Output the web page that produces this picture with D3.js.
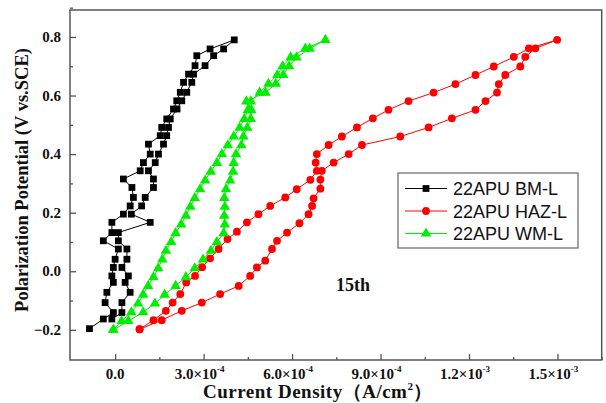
<!DOCTYPE html>
<html>
<head>
<meta charset="utf-8">
<script src="https://d3js.org/d3.v7.min.js"></script>
<style>
  body { margin: 0; background: #fff; }
  text { font-family: "Liberation Serif", "Times New Roman", serif; font-weight: bold; fill: #111; }
  .legend text { font-family: "Liberation Sans", Arial, sans-serif; font-weight: normal; }
</style>
</head>
<body>
<div id="chart"></div>
<script>
// current density in units of 1e-4 A/cm2, potential in V vs SCE
// each curve: forward branch (up) then reverse branch (down)
const bmPotential = [-0.196, -0.163, -0.141, -0.107, -0.072, -0.038, -0.016, 0.013, 0.041, 0.076, 0.104, 0.132, 0.167, 0.195, 0.223, 0.252, 0.286, 0.315, 0.343, 0.371, 0.400, 0.434, 0.463, 0.491, 0.520, 0.554, 0.582, 0.611, 0.645, 0.673, 0.702, 0.736, 0.759, 0.790,
  0.759, 0.736, 0.702, 0.673, 0.645, 0.611, 0.582, 0.554, 0.520, 0.491, 0.463, 0.434, 0.400, 0.371, 0.343, 0.315, 0.286, 0.252, 0.223, 0.195, 0.167, 0.132, 0.104, 0.076, 0.041, 0.013, -0.016, -0.038, -0.072, -0.107, -0.141, -0.163];
const bmCurrent = [-0.87, -0.40, -0.06, -0.34, -0.28, -0.06, -0.11, -0.06, 0.00, 0.11, -0.40, -0.11, -0.11, 0.28, 0.51, 0.62, 0.57, 0.28, 0.85, 0.96, 1.19, 1.13, 1.53, 1.58, 1.75, 1.98, 2.09, 2.21, 2.32, 2.49, 2.71, 2.77, 3.22, 4.04,
  3.68, 3.34, 3.05, 2.66, 2.60, 2.43, 2.26, 2.10, 1.87, 1.81, 1.75, 1.64, 1.47, 1.36, 1.13, 1.30, 1.30, 1.02, 0.90, 0.55, 1.19, 0.11, 0.11, 0.40, 0.40, 0.23, 0.45, 0.34, 0.51, 0.23, 0.23, -0.11];

const hazPotential = [-0.198, -0.167, -0.135, -0.107, -0.078, -0.038, -0.016, 0.014, 0.044, 0.076, 0.110, 0.135, 0.167, 0.195, 0.223, 0.252, 0.280, 0.312, 0.343, 0.371, 0.400, 0.431, 0.460, 0.491, 0.522, 0.551, 0.581, 0.610, 0.639, 0.670, 0.699, 0.732, 0.761, 0.790,
  0.761, 0.732, 0.699, 0.670, 0.639, 0.610, 0.581, 0.551, 0.522, 0.491, 0.460, 0.431, 0.400, 0.371, 0.343, 0.313, 0.282, 0.249, 0.223, 0.195, 0.164, 0.132, 0.104, 0.076, 0.036, 0.013, -0.016, -0.050, -0.078, -0.107, -0.135, -0.167, -0.198];
const hazCurrent = [0.83, 1.30, 1.72, 1.95, 2.21, 2.41, 2.71, 2.95, 3.22, 3.51, 3.81, 4.13, 4.47, 4.86, 5.26, 5.77, 6.16, 6.62, 6.84, 6.80, 6.84, 7.24, 7.69, 8.20, 8.74, 9.27, 9.95, 10.80, 11.54, 12.22, 12.84, 13.52, 14.03, 14.99,
  14.25, 13.91, 13.74, 13.23, 13.01, 12.95, 12.56, 12.22, 11.42, 10.63, 9.67, 8.37, 7.92, 7.41, 7.01, 6.96, 6.96, 6.73, 6.68, 6.56, 6.25, 5.83, 5.49, 5.32, 5.09, 4.81, 4.58, 4.19, 3.56, 2.94, 2.26, 1.58, 0.83];

const wmPotential = [-0.20, -0.17, -0.14, -0.11, -0.08, -0.05, -0.02, 0.01, 0.04, 0.07, 0.10, 0.13, 0.16, 0.19, 0.22, 0.25, 0.28, 0.31, 0.34, 0.37, 0.40, 0.43, 0.46, 0.49, 0.52, 0.55, 0.58, 0.61, 0.64, 0.67, 0.70, 0.73, 0.76, 0.79,
  0.76, 0.73, 0.70, 0.67, 0.64, 0.61, 0.58, 0.55, 0.52, 0.49, 0.46, 0.43, 0.40, 0.37, 0.34, 0.31, 0.28, 0.25, 0.22, 0.19, 0.16, 0.13, 0.10, 0.07, 0.04, 0.01, -0.02, -0.05, -0.08, -0.11, -0.14, -0.17, -0.20];
const wmCurrent = [-0.06, 0.22, 0.55, 0.78, 0.95, 1.12, 1.30, 1.46, 1.60, 1.72, 1.90, 2.05, 2.24, 2.40, 2.55, 2.70, 2.88, 3.05, 3.24, 3.45, 3.62, 3.82, 4.02, 4.22, 4.38, 4.50, 4.60, 4.90, 5.20, 5.50, 5.68, 5.95, 6.45, 7.13,
  6.60, 6.15, 5.90, 5.70, 5.45, 5.10, 4.45, 4.62, 4.60, 4.48, 4.35, 4.28, 4.10, 4.02, 4.00, 3.90, 3.76, 3.70, 3.72, 3.70, 3.72, 3.68, 3.45, 3.25, 2.98, 2.70, 2.40, 2.05, 1.68, 1.35, 0.95, 0.45, -0.06];

const seriesNames = ["22APU BM-L", "22APU HAZ-L", "22APU WM-L"];
const seriesColors = ["#000000", "#ff0000", "#00ee00"];
const xTicks = [0, 3, 6, 9, 12, 15];
const xTickLabels = ["0.0", "3.0×10", "6.0×10", "9.0×10", "1.2×10", "1.5×10"];
const xTickExp = ["", "-4", "-4", "-4", "-3", "-3"];
const yTicks = [-0.2, 0.0, 0.2, 0.4, 0.6, 0.8];

const width = 606, height = 403;
const plot = {left: 70, right: 601.7, top: 10, bottom: 360};

const svg = d3.select("#chart").append("svg")
    .attr("width", width)
    .attr("height", height);

const x = d3.scaleLinear().domain([-1.53, 16.5]).range([plot.left, plot.right]);
const y = d3.scaleLinear().domain([-0.303, 0.892]).range([plot.bottom, plot.top]);

// frame
svg.append("rect")
    .attr("x", plot.left).attr("y", plot.top)
    .attr("width", plot.right - plot.left).attr("height", plot.bottom - plot.top)
    .attr("fill", "none").attr("stroke", "#555").attr("stroke-width", 1.5);

// x ticks (inward)
const xAxis = d3.axisTop(x).tickValues(xTicks).tickSize(6).tickFormat("");
const xg = svg.append("g").attr("transform", `translate(0,${plot.bottom})`).call(xAxis);
const xMinor = d3.axisTop(x).tickValues(xTicks.map(d => d + 1.5)).tickSize(3).tickFormat("");
const xg2 = svg.append("g").attr("transform", `translate(0,${plot.bottom})`).call(xMinor);
// y ticks (inward)
const yAxis = d3.axisRight(y).tickValues(yTicks).tickSize(6).tickFormat("");
const yg = svg.append("g").attr("transform", `translate(${plot.left},0)`).call(yAxis);
const yMinor = d3.axisRight(y).tickValues(yTicks.map(d => d + 0.1)).tickSize(3).tickFormat("");
const yg2 = svg.append("g").attr("transform", `translate(${plot.left},0)`).call(yMinor);
[xg, xg2, yg, yg2].forEach(g => {
  g.select(".domain").remove();
  g.selectAll("line").attr("stroke", "#555").attr("stroke-width", 1.3);
});

// tick labels
xTicks.forEach((d, i) => {
  const t = svg.append("text")
      .attr("x", x(d) - (i ? 4 : 0))
      .attr("y", 379)
      .attr("text-anchor", "middle")
      .style("font-size", "15px")
      .text(xTickLabels[i]);
  if (xTickExp[i]) {
    t.append("tspan").attr("dy", -7).style("font-size", "9px").text(xTickExp[i]);
  }
});
yTicks.forEach(d => {
  svg.append("text")
      .attr("x", 61)
      .attr("y", y(d) + 5)
      .attr("text-anchor", "end")
      .style("font-size", "15px")
      .text(d3.format(".1f")(d));
});

// axis titles
const xt = svg.append("text")
    .attr("x", 318).attr("y", 398)
    .attr("text-anchor", "middle")
    .style("font-size", "19px")
    .style("letter-spacing", "0.5px")
    .text("Current Density（A/cm");
xt.append("tspan").attr("dy", -8).style("font-size", "11px").text("2");
xt.append("tspan").attr("dy", 8).text("）");

svg.append("text")
    .attr("transform", "translate(28,180) rotate(-90)")
    .attr("text-anchor", "middle")
    .style("font-size", "18.5px")
    .text("Polarization Potential (V vs.SCE)");

svg.append("text")
    .attr("x", 353).attr("y", 291)
    .attr("text-anchor", "middle")
    .style("font-size", "18px")
    .text("15th");

// data
const series = [
  {cur: bmCurrent, pot: bmPotential, sym: d3.symbolSquare, size: 46},
  {cur: hazCurrent, pot: hazPotential, sym: d3.symbolCircle, size: 48},
  {cur: wmCurrent, pot: wmPotential, sym: d3.symbolTriangle, size: 48}
];

const line = d3.line().x(d => x(d[0])).y(d => y(d[1]));

series.forEach((s, i) => {
  const pts = s.cur.map((c, j) => [c, s.pot[j]]);
  const g = svg.append("g");
  g.append("path")
      .attr("d", line(pts))
      .attr("fill", "none")
      .attr("stroke", seriesColors[i])
      .attr("stroke-width", 1);
  g.selectAll("path.pt")
      .data(pts)
      .join("path")
      .attr("class", "pt")
      .attr("transform", d => `translate(${x(d[0])},${y(d[1])})`)
      .attr("d", d3.symbol().type(s.sym).size(s.size))
      .attr("fill", seriesColors[i]);
});

// legend
const lg = svg.append("g").attr("class", "legend");
lg.append("rect")
    .attr("x", 398).attr("y", 173)
    .attr("width", 180).attr("height", 75)
    .attr("fill", "#fff").attr("stroke", "#666").attr("stroke-width", 1.2);
seriesNames.forEach((name, i) => {
  const ly = 188.5 + i * 22.5;
  lg.append("line")
      .attr("x1", 405).attr("x2", 447)
      .attr("y1", ly).attr("y2", ly)
      .attr("stroke", seriesColors[i]).attr("stroke-width", 1);
  lg.append("path")
      .attr("transform", `translate(426,${ly})`)
      .attr("d", d3.symbol().type(series[i].sym).size(series[i].size))
      .attr("fill", seriesColors[i]);
  lg.append("text")
      .attr("x", 453).attr("y", ly + 6.5)
      .style("font-size", "18px")
      .text(name);
});
</script>
</body>
</html>
